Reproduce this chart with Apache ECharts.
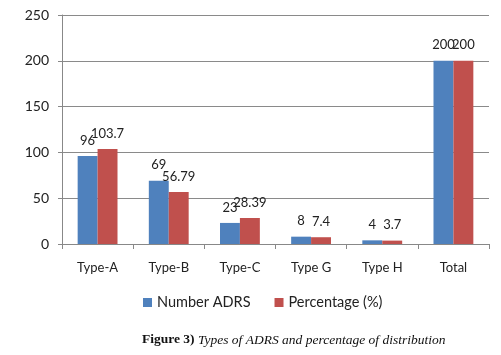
<!DOCTYPE html>
<html><head><meta charset="utf-8">
<script src="https://cdn.jsdelivr.net/npm/echarts@6/dist/echarts.min.js"></script>
<style>html,body{margin:0;padding:0;background:#fff}#c{width:501px;height:355px}</style>
</head><body><div id="c"></div>
<script>
const categories = ['Type-A', 'Type-B', 'Type-C', 'Type G', 'Type H', 'Total'];
const numberADRS = [96, 69, 23, 8, 4, 200];
const percentage = [103.7, 56.79, 28.39, 7.4, 3.7, 200];
const yTicks = [0, 50, 100, 150, 200, 250];

const chart = echarts.init(document.getElementById('c'));
const font = 'Lato, "Open Sans", sans-serif';
const lbl = {show: true, position: 'top', distance: 9, color: '#222', fontSize: 13, fontFamily: font};
chart.setOption({
  animation: false,
  grid: {left: 62, right: 12, top: 15, bottom: 111},
  xAxis: {
    type: 'category', data: categories,
    axisLine: {lineStyle: {color: '#888'}},
    axisTick: {show: true, length: 5, lineStyle: {color: '#888'}},
    axisLabel: {color: '#222', fontSize: 13, fontFamily: font, margin: 17}
  },
  yAxis: {
    type: 'value', min: yTicks[0], max: yTicks[yTicks.length - 1], interval: 50,
    axisLine: {show: true, lineStyle: {color: '#888'}},
    axisTick: {show: true, length: 4, lineStyle: {color: '#888'}},
    splitLine: {lineStyle: {color: '#8a8a8a'}},
    axisLabel: {color: '#222', fontSize: 14, fontFamily: font, margin: 13}
  },
  legend: {
    bottom: 40, left: 138, itemWidth: 9, itemHeight: 9, itemGap: 24,
    icon: 'rect',
    textStyle: {color: '#222', fontSize: 14.5, fontFamily: font}
  },
  series: [
    {name: 'Number ADRS', type: 'bar', data: numberADRS, barGap: '0%', barCategoryGap: '44%',
     itemStyle: {color: '#4F81BD'}, label: lbl},
    {name: 'Percentage (%)', type: 'bar', data: percentage,
     itemStyle: {color: '#C0504D'}, label: lbl}
  ],
  graphic: [{
    type: 'text', left: 142, top: 333,
    style: {
      text: '{b|Figure 3)} {i|Types of ADRS and percentage of distribution}',
      rich: {
        b: {fontFamily: '"Liberation Serif", serif', fontWeight: 'bold', fontSize: 13.5, fill: '#111'},
        i: {fontFamily: '"Liberation Serif", serif', fontStyle: 'italic', fontSize: 13.5, fill: '#111'}
      }
    }
  }]
});
</script></body></html>
